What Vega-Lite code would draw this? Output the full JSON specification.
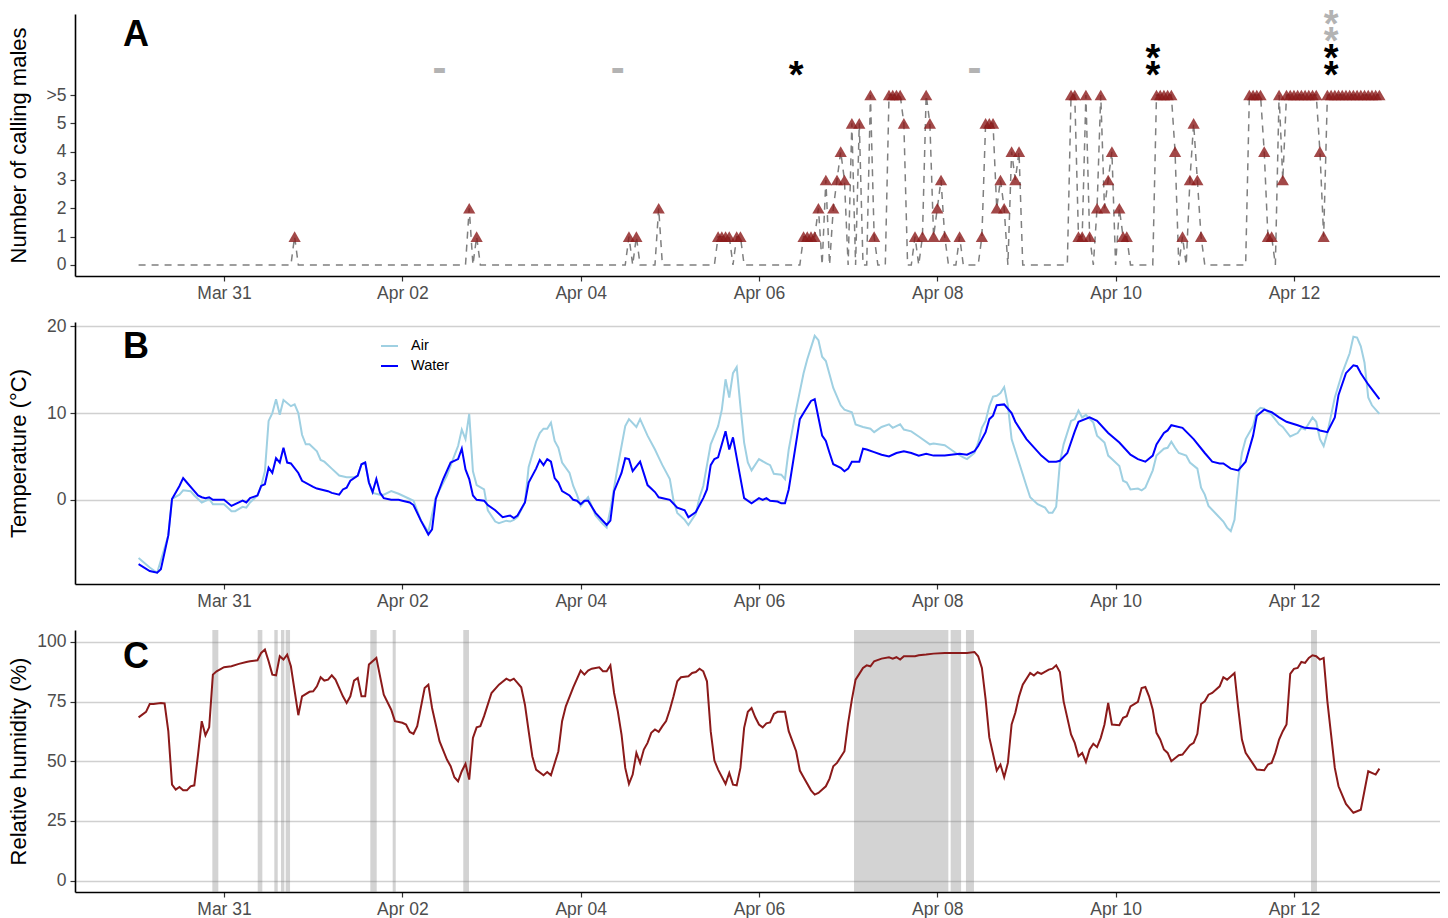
{
"$schema":"https://vega.github.io/schema/vega-lite/v6.json",
"padding":{"left":6,"top":7,"right":0,"bottom":0},
"bounds":"flush",
"spacing":46,
"resolve":{"scale":{"x":"independent","y":"independent","color":"independent"}},
"config":{
 "font":"Liberation Sans",
 "view":{"stroke":null},
 "axis":{"domainColor":"#000000","domainWidth":1.6,"tickColor":"#333333","tickWidth":1.2,"tickSize":5,"labelColor":"#4d4d4d","labelFontSize":17.5,"labelFont":"Liberation Sans","titleFont":"Liberation Sans","titleFontSize":22,"titleFontWeight":"normal","titleColor":"#000000","labelPadding":3,"grid":false,"gridColor":"#d0d0d0","gridWidth":1.5},
 "axisY":{"labelPadding":4},
 "text":{"font":"Liberation Sans"}
},
"datasets":{
"calls":[
{"t":"2019-03-30T01:00","n":0},{"t":"2019-03-31T18:00","n":0},{"t":"2019-03-31T19:00","n":1},{"t":"2019-03-31T20:00","n":0},
{"t":"2019-04-02T17:00","n":0},{"t":"2019-04-02T18:00","n":2},{"t":"2019-04-02T19:00","n":0},{"t":"2019-04-02T20:00","n":1},{"t":"2019-04-02T21:00","n":0},
{"t":"2019-04-04T12:00","n":0},{"t":"2019-04-04T13:00","n":1},{"t":"2019-04-04T14:00","n":0},{"t":"2019-04-04T15:00","n":1},{"t":"2019-04-04T16:00","n":0},{"t":"2019-04-04T20:00","n":0},{"t":"2019-04-04T21:00","n":2},{"t":"2019-04-04T22:00","n":0},
{"t":"2019-04-05T12:00","n":0},{"t":"2019-04-05T13:00","n":1},{"t":"2019-04-05T14:00","n":1},{"t":"2019-04-05T15:00","n":1},{"t":"2019-04-05T16:00","n":1},{"t":"2019-04-05T17:00","n":0},{"t":"2019-04-05T18:00","n":1},{"t":"2019-04-05T19:00","n":1},{"t":"2019-04-05T20:00","n":0},
{"t":"2019-04-06T11:00","n":0},{"t":"2019-04-06T12:00","n":1},{"t":"2019-04-06T13:00","n":1},{"t":"2019-04-06T14:00","n":1},{"t":"2019-04-06T15:00","n":1},{"t":"2019-04-06T16:00","n":2},{"t":"2019-04-06T17:00","n":0},{"t":"2019-04-06T18:00","n":3},{"t":"2019-04-06T19:00","n":0},{"t":"2019-04-06T20:00","n":2},{"t":"2019-04-06T21:00","n":3},{"t":"2019-04-06T22:00","n":4},{"t":"2019-04-06T23:00","n":3},
{"t":"2019-04-07T00:00","n":0},{"t":"2019-04-07T01:00","n":5},{"t":"2019-04-07T02:00","n":0},{"t":"2019-04-07T03:00","n":5},{"t":"2019-04-07T04:00","n":0},{"t":"2019-04-07T05:00","n":0},{"t":"2019-04-07T06:00","n":6},{"t":"2019-04-07T07:00","n":1},{"t":"2019-04-07T08:00","n":0},{"t":"2019-04-07T10:00","n":0},{"t":"2019-04-07T11:00","n":6},{"t":"2019-04-07T12:00","n":6},{"t":"2019-04-07T13:00","n":6},{"t":"2019-04-07T14:00","n":6},{"t":"2019-04-07T15:00","n":5},{"t":"2019-04-07T16:00","n":0},{"t":"2019-04-07T17:00","n":0},{"t":"2019-04-07T18:00","n":1},{"t":"2019-04-07T19:00","n":0},{"t":"2019-04-07T20:00","n":1},{"t":"2019-04-07T21:00","n":6},{"t":"2019-04-07T22:00","n":5},{"t":"2019-04-07T23:00","n":1},
{"t":"2019-04-08T00:00","n":2},{"t":"2019-04-08T01:00","n":3},{"t":"2019-04-08T02:00","n":1},{"t":"2019-04-08T03:00","n":0},{"t":"2019-04-08T05:00","n":0},{"t":"2019-04-08T06:00","n":1},{"t":"2019-04-08T07:00","n":0},{"t":"2019-04-08T11:00","n":0},{"t":"2019-04-08T12:00","n":1},{"t":"2019-04-08T13:00","n":5},{"t":"2019-04-08T14:00","n":5},{"t":"2019-04-08T15:00","n":5},{"t":"2019-04-08T16:00","n":2},{"t":"2019-04-08T17:00","n":3},{"t":"2019-04-08T18:00","n":2},{"t":"2019-04-08T19:00","n":0},{"t":"2019-04-08T20:00","n":4},{"t":"2019-04-08T21:00","n":3},{"t":"2019-04-08T22:00","n":4},{"t":"2019-04-08T23:00","n":0},
{"t":"2019-04-09T11:00","n":0},{"t":"2019-04-09T12:00","n":6},{"t":"2019-04-09T13:00","n":6},{"t":"2019-04-09T14:00","n":1},{"t":"2019-04-09T15:00","n":1},{"t":"2019-04-09T16:00","n":6},{"t":"2019-04-09T17:00","n":1},{"t":"2019-04-09T18:00","n":0},{"t":"2019-04-09T19:00","n":2},{"t":"2019-04-09T20:00","n":6},{"t":"2019-04-09T21:00","n":2},{"t":"2019-04-09T22:00","n":3},{"t":"2019-04-09T23:00","n":4},
{"t":"2019-04-10T00:00","n":0},{"t":"2019-04-10T01:00","n":2},{"t":"2019-04-10T02:00","n":1},{"t":"2019-04-10T03:00","n":1},{"t":"2019-04-10T04:00","n":0},{"t":"2019-04-10T10:00","n":0},{"t":"2019-04-10T11:00","n":6},{"t":"2019-04-10T12:00","n":6},{"t":"2019-04-10T13:00","n":6},{"t":"2019-04-10T14:00","n":6},{"t":"2019-04-10T15:00","n":6},{"t":"2019-04-10T16:00","n":4},{"t":"2019-04-10T17:00","n":0},{"t":"2019-04-10T18:00","n":1},{"t":"2019-04-10T19:00","n":0},{"t":"2019-04-10T20:00","n":3},{"t":"2019-04-10T21:00","n":5},{"t":"2019-04-10T22:00","n":3},{"t":"2019-04-10T23:00","n":1},
{"t":"2019-04-11T00:00","n":0},{"t":"2019-04-11T11:00","n":0},{"t":"2019-04-11T12:00","n":6},{"t":"2019-04-11T13:00","n":6},{"t":"2019-04-11T14:00","n":6},{"t":"2019-04-11T15:00","n":6},{"t":"2019-04-11T16:00","n":4},{"t":"2019-04-11T17:00","n":1},{"t":"2019-04-11T18:00","n":1},{"t":"2019-04-11T19:00","n":0},{"t":"2019-04-11T20:00","n":6},{"t":"2019-04-11T21:00","n":3},{"t":"2019-04-11T22:00","n":6},{"t":"2019-04-11T23:00","n":6},
{"t":"2019-04-12T00:00","n":6},{"t":"2019-04-12T01:00","n":6},{"t":"2019-04-12T02:00","n":6},{"t":"2019-04-12T03:00","n":6},{"t":"2019-04-12T04:00","n":6},{"t":"2019-04-12T05:00","n":6},{"t":"2019-04-12T06:00","n":6},{"t":"2019-04-12T07:00","n":4},{"t":"2019-04-12T08:00","n":1},{"t":"2019-04-12T09:00","n":6},{"t":"2019-04-12T10:00","n":6},{"t":"2019-04-12T11:00","n":6},{"t":"2019-04-12T12:00","n":6},{"t":"2019-04-12T13:00","n":6},{"t":"2019-04-12T14:00","n":6},{"t":"2019-04-12T15:00","n":6},{"t":"2019-04-12T16:00","n":6},{"t":"2019-04-12T17:00","n":6},{"t":"2019-04-12T18:00","n":6},{"t":"2019-04-12T19:00","n":6},{"t":"2019-04-12T20:00","n":6},{"t":"2019-04-12T21:00","n":6},{"t":"2019-04-12T22:00","n":6},{"t":"2019-04-12T23:00","n":6}
],
"sig":[
{"t":"2019-04-02T10:00","y":6.88,"txt":"-","cat":"secondary"},
{"t":"2019-04-04T10:00","y":6.88,"txt":"-","cat":"secondary"},
{"t":"2019-04-08T10:00","y":6.88,"txt":"-","cat":"secondary"},
{"t":"2019-04-06T10:00","y":6.95,"txt":"*","cat":"main"},
{"t":"2019-04-10T10:00","y":6.95,"txt":"*","cat":"main"},
{"t":"2019-04-10T10:00","y":7.55,"txt":"*","cat":"main"},
{"t":"2019-04-12T10:00","y":6.95,"txt":"*","cat":"main"},
{"t":"2019-04-12T10:00","y":7.55,"txt":"*","cat":"main"},
{"t":"2019-04-12T10:00","y":8.15,"txt":"*","cat":"secondary"},
{"t":"2019-04-12T10:00","y":8.75,"txt":"*","cat":"secondary"}
],
"temp":[
{"t":"2019-03-30T01:00","s":"Air","v":-6.7},{"t":"2019-03-30T04:00","s":"Air","v":-7.8},{"t":"2019-03-30T06:00","s":"Air","v":-8.4},{"t":"2019-03-30T09:00","s":"Air","v":-4.1},{"t":"2019-03-30T10:00","s":"Air","v":0.1},{"t":"2019-03-30T12:00","s":"Air","v":0.6},{"t":"2019-03-30T13:00","s":"Air","v":1.1},{"t":"2019-03-30T15:00","s":"Air","v":1.0},{"t":"2019-03-30T16:00","s":"Air","v":0.5},{"t":"2019-03-30T18:00","s":"Air","v":-0.3},{"t":"2019-03-30T20:00","s":"Air","v":0.1},{"t":"2019-03-30T21:00","s":"Air","v":-0.5},{"t":"2019-03-30T23:00","s":"Air","v":-0.5},
{"t":"2019-03-31T00:00","s":"Air","v":-0.5},{"t":"2019-03-31T02:00","s":"Air","v":-1.3},{"t":"2019-03-31T03:00","s":"Air","v":-1.3},{"t":"2019-03-31T05:00","s":"Air","v":-0.8},{"t":"2019-03-31T06:00","s":"Air","v":-0.9},{"t":"2019-03-31T07:00","s":"Air","v":-0.3},{"t":"2019-03-31T09:00","s":"Air","v":0.5},{"t":"2019-03-31T10:00","s":"Air","v":1.6},{"t":"2019-03-31T11:00","s":"Air","v":3.3},{"t":"2019-03-31T12:00","s":"Air","v":9.1},{"t":"2019-03-31T13:00","s":"Air","v":10.0},{"t":"2019-03-31T14:00","s":"Air","v":11.6},{"t":"2019-03-31T15:00","s":"Air","v":9.8},{"t":"2019-03-31T16:00","s":"Air","v":11.5},{"t":"2019-03-31T18:00","s":"Air","v":10.8},{"t":"2019-03-31T19:00","s":"Air","v":11.0},{"t":"2019-03-31T20:00","s":"Air","v":10.0},{"t":"2019-03-31T21:00","s":"Air","v":7.5},{"t":"2019-03-31T22:00","s":"Air","v":6.4},{"t":"2019-03-31T23:00","s":"Air","v":6.4},
{"t":"2019-04-01T01:00","s":"Air","v":5.6},{"t":"2019-04-01T02:00","s":"Air","v":4.6},{"t":"2019-04-01T03:00","s":"Air","v":4.4},{"t":"2019-04-01T05:00","s":"Air","v":3.6},{"t":"2019-04-01T07:00","s":"Air","v":2.8},{"t":"2019-04-01T09:00","s":"Air","v":2.6},{"t":"2019-04-01T11:00","s":"Air","v":2.6},{"t":"2019-04-01T12:00","s":"Air","v":2.8},{"t":"2019-04-01T13:00","s":"Air","v":4.1},{"t":"2019-04-01T14:00","s":"Air","v":4.3},{"t":"2019-04-01T15:00","s":"Air","v":2.0},{"t":"2019-04-01T16:00","s":"Air","v":0.8},{"t":"2019-04-01T18:00","s":"Air","v":0.6},{"t":"2019-04-01T19:00","s":"Air","v":0.6},{"t":"2019-04-01T21:00","s":"Air","v":1.0},{"t":"2019-04-01T23:00","s":"Air","v":0.7},
{"t":"2019-04-02T02:00","s":"Air","v":0.1},{"t":"2019-04-02T03:00","s":"Air","v":-0.1},{"t":"2019-04-02T05:00","s":"Air","v":-2.4},{"t":"2019-04-02T07:00","s":"Air","v":-3.7},{"t":"2019-04-02T09:00","s":"Air","v":0.3},{"t":"2019-04-02T12:00","s":"Air","v":2.8},{"t":"2019-04-02T14:00","s":"Air","v":5.1},{"t":"2019-04-02T15:00","s":"Air","v":6.2},{"t":"2019-04-02T16:00","s":"Air","v":8.1},{"t":"2019-04-02T17:00","s":"Air","v":7.0},{"t":"2019-04-02T18:00","s":"Air","v":9.9},{"t":"2019-04-02T19:00","s":"Air","v":3.3},{"t":"2019-04-02T20:00","s":"Air","v":1.7},{"t":"2019-04-02T22:00","s":"Air","v":1.2},{"t":"2019-04-02T23:00","s":"Air","v":-1.2},
{"t":"2019-04-03T01:00","s":"Air","v":-2.5},{"t":"2019-04-03T02:00","s":"Air","v":-2.7},{"t":"2019-04-03T04:00","s":"Air","v":-2.4},{"t":"2019-04-03T05:00","s":"Air","v":-2.5},{"t":"2019-04-03T06:00","s":"Air","v":-2.3},{"t":"2019-04-03T07:00","s":"Air","v":-2.0},{"t":"2019-04-03T09:00","s":"Air","v":-0.3},{"t":"2019-04-03T10:00","s":"Air","v":3.8},{"t":"2019-04-03T12:00","s":"Air","v":6.7},{"t":"2019-04-03T13:00","s":"Air","v":7.7},{"t":"2019-04-03T14:00","s":"Air","v":8.2},{"t":"2019-04-03T15:00","s":"Air","v":8.2},{"t":"2019-04-03T16:00","s":"Air","v":8.9},{"t":"2019-04-03T17:00","s":"Air","v":6.8},{"t":"2019-04-03T18:00","s":"Air","v":6.0},{"t":"2019-04-03T19:00","s":"Air","v":4.3},{"t":"2019-04-03T21:00","s":"Air","v":3.1},{"t":"2019-04-03T22:00","s":"Air","v":1.6},{"t":"2019-04-03T23:00","s":"Air","v":0.6},
{"t":"2019-04-04T00:00","s":"Air","v":-0.7},{"t":"2019-04-04T02:00","s":"Air","v":0.3},{"t":"2019-04-04T04:00","s":"Air","v":-1.8},{"t":"2019-04-04T06:00","s":"Air","v":-2.8},{"t":"2019-04-04T07:00","s":"Air","v":-3.2},{"t":"2019-04-04T08:00","s":"Air","v":-1.1},{"t":"2019-04-04T10:00","s":"Air","v":3.9},{"t":"2019-04-04T12:00","s":"Air","v":8.5},{"t":"2019-04-04T13:00","s":"Air","v":9.3},{"t":"2019-04-04T15:00","s":"Air","v":8.4},{"t":"2019-04-04T16:00","s":"Air","v":9.3},{"t":"2019-04-04T18:00","s":"Air","v":7.4},{"t":"2019-04-04T20:00","s":"Air","v":5.8},{"t":"2019-04-04T21:00","s":"Air","v":4.9},{"t":"2019-04-04T22:00","s":"Air","v":4.0},
{"t":"2019-04-05T00:00","s":"Air","v":2.4},{"t":"2019-04-05T01:00","s":"Air","v":-0.1},{"t":"2019-04-05T02:00","s":"Air","v":-1.5},{"t":"2019-04-05T04:00","s":"Air","v":-2.3},{"t":"2019-04-05T05:00","s":"Air","v":-2.9},{"t":"2019-04-05T07:00","s":"Air","v":-1.6},{"t":"2019-04-05T08:00","s":"Air","v":0.3},{"t":"2019-04-05T09:00","s":"Air","v":1.6},{"t":"2019-04-05T11:00","s":"Air","v":6.4},{"t":"2019-04-05T13:00","s":"Air","v":8.5},{"t":"2019-04-05T14:00","s":"Air","v":10.4},{"t":"2019-04-05T15:00","s":"Air","v":13.9},{"t":"2019-04-05T16:00","s":"Air","v":11.8},{"t":"2019-04-05T17:00","s":"Air","v":14.6},{"t":"2019-04-05T18:00","s":"Air","v":15.3},{"t":"2019-04-05T19:00","s":"Air","v":10.8},{"t":"2019-04-05T20:00","s":"Air","v":6.6},{"t":"2019-04-05T21:00","s":"Air","v":4.3},{"t":"2019-04-05T22:00","s":"Air","v":3.4},
{"t":"2019-04-06T00:00","s":"Air","v":4.7},{"t":"2019-04-06T02:00","s":"Air","v":4.2},{"t":"2019-04-06T03:00","s":"Air","v":4.0},{"t":"2019-04-06T04:00","s":"Air","v":3.0},{"t":"2019-04-06T06:00","s":"Air","v":2.9},{"t":"2019-04-06T07:00","s":"Air","v":2.4},{"t":"2019-04-06T08:00","s":"Air","v":5.8},{"t":"2019-04-06T10:00","s":"Air","v":10.4},{"t":"2019-04-06T12:00","s":"Air","v":14.6},{"t":"2019-04-06T13:00","s":"Air","v":16.2},{"t":"2019-04-06T15:00","s":"Air","v":18.9},{"t":"2019-04-06T16:00","s":"Air","v":18.4},{"t":"2019-04-06T17:00","s":"Air","v":16.5},{"t":"2019-04-06T18:00","s":"Air","v":16.0},{"t":"2019-04-06T20:00","s":"Air","v":12.9},{"t":"2019-04-06T22:00","s":"Air","v":10.9},{"t":"2019-04-06T23:00","s":"Air","v":10.4},
{"t":"2019-04-07T01:00","s":"Air","v":10.1},{"t":"2019-04-07T02:00","s":"Air","v":8.7},{"t":"2019-04-07T04:00","s":"Air","v":8.4},{"t":"2019-04-07T06:00","s":"Air","v":8.2},{"t":"2019-04-07T07:00","s":"Air","v":7.8},{"t":"2019-04-07T09:00","s":"Air","v":8.4},{"t":"2019-04-07T11:00","s":"Air","v":8.7},{"t":"2019-04-07T12:00","s":"Air","v":8.3},{"t":"2019-04-07T14:00","s":"Air","v":8.7},{"t":"2019-04-07T15:00","s":"Air","v":8.1},{"t":"2019-04-07T17:00","s":"Air","v":7.9},{"t":"2019-04-07T19:00","s":"Air","v":7.3},{"t":"2019-04-07T22:00","s":"Air","v":6.4},{"t":"2019-04-07T23:00","s":"Air","v":6.5},
{"t":"2019-04-08T02:00","s":"Air","v":6.3},{"t":"2019-04-08T03:00","s":"Air","v":6.0},{"t":"2019-04-08T05:00","s":"Air","v":5.4},{"t":"2019-04-08T07:00","s":"Air","v":4.9},{"t":"2019-04-08T08:00","s":"Air","v":4.7},{"t":"2019-04-08T10:00","s":"Air","v":5.4},{"t":"2019-04-08T11:00","s":"Air","v":6.6},{"t":"2019-04-08T12:00","s":"Air","v":8.3},{"t":"2019-04-08T13:00","s":"Air","v":9.1},{"t":"2019-04-08T14:00","s":"Air","v":10.8},{"t":"2019-04-08T15:00","s":"Air","v":11.9},{"t":"2019-04-08T16:00","s":"Air","v":12.0},{"t":"2019-04-08T17:00","s":"Air","v":12.3},{"t":"2019-04-08T18:00","s":"Air","v":13.0},{"t":"2019-04-08T19:00","s":"Air","v":10.9},{"t":"2019-04-08T20:00","s":"Air","v":7.0},{"t":"2019-04-08T22:00","s":"Air","v":4.3},
{"t":"2019-04-09T00:00","s":"Air","v":1.6},{"t":"2019-04-09T01:00","s":"Air","v":0.3},{"t":"2019-04-09T03:00","s":"Air","v":-0.5},{"t":"2019-04-09T05:00","s":"Air","v":-0.9},{"t":"2019-04-09T06:00","s":"Air","v":-1.5},{"t":"2019-04-09T07:00","s":"Air","v":-1.5},{"t":"2019-04-09T08:00","s":"Air","v":-0.8},{"t":"2019-04-09T09:00","s":"Air","v":4.3},{"t":"2019-04-09T10:00","s":"Air","v":6.4},{"t":"2019-04-09T12:00","s":"Air","v":9.1},{"t":"2019-04-09T13:00","s":"Air","v":9.3},{"t":"2019-04-09T14:00","s":"Air","v":10.3},{"t":"2019-04-09T15:00","s":"Air","v":9.5},{"t":"2019-04-09T16:00","s":"Air","v":9.8},{"t":"2019-04-09T18:00","s":"Air","v":8.9},{"t":"2019-04-09T19:00","s":"Air","v":7.4},{"t":"2019-04-09T21:00","s":"Air","v":6.6},{"t":"2019-04-09T22:00","s":"Air","v":5.1},{"t":"2019-04-09T23:00","s":"Air","v":4.7},
{"t":"2019-04-10T01:00","s":"Air","v":3.9},{"t":"2019-04-10T02:00","s":"Air","v":2.2},{"t":"2019-04-10T03:00","s":"Air","v":2.0},{"t":"2019-04-10T04:00","s":"Air","v":1.2},{"t":"2019-04-10T06:00","s":"Air","v":1.3},{"t":"2019-04-10T07:00","s":"Air","v":1.1},{"t":"2019-04-10T08:00","s":"Air","v":1.4},{"t":"2019-04-10T10:00","s":"Air","v":3.4},{"t":"2019-04-10T11:00","s":"Air","v":5.1},{"t":"2019-04-10T13:00","s":"Air","v":5.9},{"t":"2019-04-10T14:00","s":"Air","v":6.0},{"t":"2019-04-10T15:00","s":"Air","v":6.7},{"t":"2019-04-10T16:00","s":"Air","v":6.0},{"t":"2019-04-10T17:00","s":"Air","v":5.4},{"t":"2019-04-10T19:00","s":"Air","v":5.1},{"t":"2019-04-10T20:00","s":"Air","v":4.3},{"t":"2019-04-10T22:00","s":"Air","v":3.6},{"t":"2019-04-10T23:00","s":"Air","v":1.4},
{"t":"2019-04-11T00:00","s":"Air","v":0.6},{"t":"2019-04-11T01:00","s":"Air","v":-0.7},{"t":"2019-04-11T03:00","s":"Air","v":-1.6},{"t":"2019-04-11T05:00","s":"Air","v":-2.5},{"t":"2019-04-11T06:00","s":"Air","v":-3.2},{"t":"2019-04-11T07:00","s":"Air","v":-3.6},{"t":"2019-04-11T08:00","s":"Air","v":-2.3},{"t":"2019-04-11T09:00","s":"Air","v":2.4},{"t":"2019-04-11T10:00","s":"Air","v":5.4},{"t":"2019-04-11T11:00","s":"Air","v":7.0},{"t":"2019-04-11T13:00","s":"Air","v":8.5},{"t":"2019-04-11T14:00","s":"Air","v":10.2},{"t":"2019-04-11T15:00","s":"Air","v":10.6},{"t":"2019-04-11T16:00","s":"Air","v":10.5},{"t":"2019-04-11T18:00","s":"Air","v":9.8},{"t":"2019-04-11T20:00","s":"Air","v":8.7},{"t":"2019-04-11T21:00","s":"Air","v":8.4},{"t":"2019-04-11T23:00","s":"Air","v":7.3},
{"t":"2019-04-12T01:00","s":"Air","v":7.7},{"t":"2019-04-12T02:00","s":"Air","v":8.3},{"t":"2019-04-12T03:00","s":"Air","v":8.1},{"t":"2019-04-12T05:00","s":"Air","v":9.5},{"t":"2019-04-12T06:00","s":"Air","v":9.0},{"t":"2019-04-12T07:00","s":"Air","v":7.0},{"t":"2019-04-12T08:00","s":"Air","v":6.2},{"t":"2019-04-12T09:00","s":"Air","v":7.7},{"t":"2019-04-12T11:00","s":"Air","v":11.8},{"t":"2019-04-12T13:00","s":"Air","v":14.6},{"t":"2019-04-12T15:00","s":"Air","v":16.9},{"t":"2019-04-12T16:00","s":"Air","v":18.8},{"t":"2019-04-12T17:00","s":"Air","v":18.7},{"t":"2019-04-12T18:00","s":"Air","v":17.7},{"t":"2019-04-12T19:00","s":"Air","v":15.8},{"t":"2019-04-12T20:00","s":"Air","v":11.8},{"t":"2019-04-12T21:00","s":"Air","v":10.9},{"t":"2019-04-12T23:00","s":"Air","v":9.9},
{"t":"2019-03-30T01:00","s":"Water","v":-7.4},{"t":"2019-03-30T04:00","s":"Water","v":-8.2},{"t":"2019-03-30T06:00","s":"Water","v":-8.4},{"t":"2019-03-30T07:00","s":"Water","v":-8.0},{"t":"2019-03-30T09:00","s":"Water","v":-4.1},{"t":"2019-03-30T10:00","s":"Water","v":0.1},{"t":"2019-03-30T12:00","s":"Water","v":1.6},{"t":"2019-03-30T13:00","s":"Water","v":2.5},{"t":"2019-03-30T14:00","s":"Water","v":2.0},{"t":"2019-03-30T16:00","s":"Water","v":1.0},{"t":"2019-03-30T17:00","s":"Water","v":0.5},{"t":"2019-03-30T18:00","s":"Water","v":0.3},{"t":"2019-03-30T19:00","s":"Water","v":0.2},{"t":"2019-03-30T20:00","s":"Water","v":0.3},{"t":"2019-03-30T21:00","s":"Water","v":0.0},
{"t":"2019-03-31T00:00","s":"Water","v":0.0},{"t":"2019-03-31T02:00","s":"Water","v":-0.7},{"t":"2019-03-31T05:00","s":"Water","v":-0.1},{"t":"2019-03-31T06:00","s":"Water","v":-0.3},{"t":"2019-03-31T07:00","s":"Water","v":0.2},{"t":"2019-03-31T09:00","s":"Water","v":0.5},{"t":"2019-03-31T10:00","s":"Water","v":1.6},{"t":"2019-03-31T11:00","s":"Water","v":1.8},{"t":"2019-03-31T12:00","s":"Water","v":3.7},{"t":"2019-03-31T13:00","s":"Water","v":3.1},{"t":"2019-03-31T14:00","s":"Water","v":4.8},{"t":"2019-03-31T15:00","s":"Water","v":4.3},{"t":"2019-03-31T16:00","s":"Water","v":6.0},{"t":"2019-03-31T17:00","s":"Water","v":4.3},{"t":"2019-03-31T18:00","s":"Water","v":4.2},{"t":"2019-03-31T20:00","s":"Water","v":3.1},{"t":"2019-03-31T21:00","s":"Water","v":2.2},
{"t":"2019-04-01T00:00","s":"Water","v":1.5},{"t":"2019-04-01T01:00","s":"Water","v":1.3},{"t":"2019-04-01T04:00","s":"Water","v":1.0},{"t":"2019-04-01T05:00","s":"Water","v":0.8},{"t":"2019-04-01T07:00","s":"Water","v":0.6},{"t":"2019-04-01T08:00","s":"Water","v":1.2},{"t":"2019-04-01T09:00","s":"Water","v":1.4},{"t":"2019-04-01T10:00","s":"Water","v":2.2},{"t":"2019-04-01T12:00","s":"Water","v":2.8},{"t":"2019-04-01T13:00","s":"Water","v":4.1},{"t":"2019-04-01T14:00","s":"Water","v":4.3},{"t":"2019-04-01T15:00","s":"Water","v":2.0},{"t":"2019-04-01T16:00","s":"Water","v":0.9},{"t":"2019-04-01T17:00","s":"Water","v":2.4},{"t":"2019-04-01T18:00","s":"Water","v":0.8},{"t":"2019-04-01T19:00","s":"Water","v":0.2},{"t":"2019-04-01T21:00","s":"Water","v":0.0},{"t":"2019-04-01T23:00","s":"Water","v":0.0},
{"t":"2019-04-02T00:00","s":"Water","v":-0.1},{"t":"2019-04-02T02:00","s":"Water","v":-0.3},{"t":"2019-04-02T03:00","s":"Water","v":-0.6},{"t":"2019-04-02T05:00","s":"Water","v":-2.4},{"t":"2019-04-02T07:00","s":"Water","v":-4.0},{"t":"2019-04-02T08:00","s":"Water","v":-3.4},{"t":"2019-04-02T09:00","s":"Water","v":0.1},{"t":"2019-04-02T11:00","s":"Water","v":2.4},{"t":"2019-04-02T13:00","s":"Water","v":4.3},{"t":"2019-04-02T15:00","s":"Water","v":4.7},{"t":"2019-04-02T16:00","s":"Water","v":5.9},{"t":"2019-04-02T17:00","s":"Water","v":3.5},{"t":"2019-04-02T18:00","s":"Water","v":2.4},{"t":"2019-04-02T19:00","s":"Water","v":0.5},{"t":"2019-04-02T20:00","s":"Water","v":0.0},{"t":"2019-04-02T22:00","s":"Water","v":-0.1},{"t":"2019-04-02T23:00","s":"Water","v":-0.6},
{"t":"2019-04-03T01:00","s":"Water","v":-1.2},{"t":"2019-04-03T03:00","s":"Water","v":-2.0},{"t":"2019-04-03T05:00","s":"Water","v":-1.8},{"t":"2019-04-03T06:00","s":"Water","v":-2.1},{"t":"2019-04-03T07:00","s":"Water","v":-1.8},{"t":"2019-04-03T09:00","s":"Water","v":-0.3},{"t":"2019-04-03T10:00","s":"Water","v":2.0},{"t":"2019-04-03T12:00","s":"Water","v":3.6},{"t":"2019-04-03T13:00","s":"Water","v":4.6},{"t":"2019-04-03T14:00","s":"Water","v":4.0},{"t":"2019-04-03T15:00","s":"Water","v":4.7},{"t":"2019-04-03T16:00","s":"Water","v":4.4},{"t":"2019-04-03T17:00","s":"Water","v":2.5},{"t":"2019-04-03T18:00","s":"Water","v":2.0},{"t":"2019-04-03T19:00","s":"Water","v":1.0},{"t":"2019-04-03T21:00","s":"Water","v":0.5},{"t":"2019-04-03T22:00","s":"Water","v":0.0},{"t":"2019-04-03T23:00","s":"Water","v":-0.1},
{"t":"2019-04-04T00:00","s":"Water","v":-0.5},{"t":"2019-04-04T01:00","s":"Water","v":-0.1},{"t":"2019-04-04T02:00","s":"Water","v":-0.1},{"t":"2019-04-04T04:00","s":"Water","v":-1.5},{"t":"2019-04-04T07:00","s":"Water","v":-2.9},{"t":"2019-04-04T08:00","s":"Water","v":-2.4},{"t":"2019-04-04T09:00","s":"Water","v":1.0},{"t":"2019-04-04T11:00","s":"Water","v":3.1},{"t":"2019-04-04T12:00","s":"Water","v":4.8},{"t":"2019-04-04T13:00","s":"Water","v":4.7},{"t":"2019-04-04T14:00","s":"Water","v":3.3},{"t":"2019-04-04T16:00","s":"Water","v":4.4},{"t":"2019-04-04T18:00","s":"Water","v":1.7},{"t":"2019-04-04T20:00","s":"Water","v":0.9},{"t":"2019-04-04T21:00","s":"Water","v":0.3},
{"t":"2019-04-05T00:00","s":"Water","v":0.0},{"t":"2019-04-05T02:00","s":"Water","v":-0.9},{"t":"2019-04-05T04:00","s":"Water","v":-1.2},{"t":"2019-04-05T05:00","s":"Water","v":-2.0},{"t":"2019-04-05T07:00","s":"Water","v":-1.4},{"t":"2019-04-05T09:00","s":"Water","v":0.2},{"t":"2019-04-05T10:00","s":"Water","v":1.2},{"t":"2019-04-05T11:00","s":"Water","v":4.0},{"t":"2019-04-05T12:00","s":"Water","v":4.7},{"t":"2019-04-05T13:00","s":"Water","v":4.9},{"t":"2019-04-05T15:00","s":"Water","v":7.9},{"t":"2019-04-05T16:00","s":"Water","v":5.8},{"t":"2019-04-05T17:00","s":"Water","v":7.2},{"t":"2019-04-05T20:00","s":"Water","v":0.2},{"t":"2019-04-05T22:00","s":"Water","v":-0.4},
{"t":"2019-04-06T00:00","s":"Water","v":0.2},{"t":"2019-04-06T01:00","s":"Water","v":0.0},{"t":"2019-04-06T02:00","s":"Water","v":0.2},{"t":"2019-04-06T03:00","s":"Water","v":-0.1},{"t":"2019-04-06T05:00","s":"Water","v":-0.2},{"t":"2019-04-06T06:00","s":"Water","v":-0.4},{"t":"2019-04-06T07:00","s":"Water","v":-0.4},{"t":"2019-04-06T08:00","s":"Water","v":1.2},{"t":"2019-04-06T10:00","s":"Water","v":6.6},{"t":"2019-04-06T11:00","s":"Water","v":9.3},{"t":"2019-04-06T12:00","s":"Water","v":10.0},{"t":"2019-04-06T14:00","s":"Water","v":11.4},{"t":"2019-04-06T15:00","s":"Water","v":11.6},{"t":"2019-04-06T16:00","s":"Water","v":9.5},{"t":"2019-04-06T17:00","s":"Water","v":7.4},{"t":"2019-04-06T18:00","s":"Water","v":6.8},{"t":"2019-04-06T19:00","s":"Water","v":5.4},{"t":"2019-04-06T20:00","s":"Water","v":4.1},{"t":"2019-04-06T22:00","s":"Water","v":3.7},{"t":"2019-04-06T23:00","s":"Water","v":3.3},
{"t":"2019-04-07T00:00","s":"Water","v":3.6},{"t":"2019-04-07T01:00","s":"Water","v":4.4},{"t":"2019-04-07T03:00","s":"Water","v":4.4},{"t":"2019-04-07T04:00","s":"Water","v":5.9},{"t":"2019-04-07T05:00","s":"Water","v":5.8},{"t":"2019-04-07T07:00","s":"Water","v":5.5},{"t":"2019-04-07T09:00","s":"Water","v":5.2},{"t":"2019-04-07T11:00","s":"Water","v":5.0},{"t":"2019-04-07T13:00","s":"Water","v":5.4},{"t":"2019-04-07T15:00","s":"Water","v":5.6},{"t":"2019-04-07T17:00","s":"Water","v":5.4},{"t":"2019-04-07T19:00","s":"Water","v":5.1},{"t":"2019-04-07T21:00","s":"Water","v":5.3},{"t":"2019-04-07T23:00","s":"Water","v":5.1},
{"t":"2019-04-08T02:00","s":"Water","v":5.1},{"t":"2019-04-08T06:00","s":"Water","v":5.3},{"t":"2019-04-08T08:00","s":"Water","v":5.2},{"t":"2019-04-08T10:00","s":"Water","v":5.6},{"t":"2019-04-08T11:00","s":"Water","v":6.2},{"t":"2019-04-08T12:00","s":"Water","v":7.0},{"t":"2019-04-08T13:00","s":"Water","v":7.8},{"t":"2019-04-08T14:00","s":"Water","v":9.3},{"t":"2019-04-08T15:00","s":"Water","v":9.7},{"t":"2019-04-08T16:00","s":"Water","v":10.9},{"t":"2019-04-08T18:00","s":"Water","v":11.0},{"t":"2019-04-08T20:00","s":"Water","v":10.0},{"t":"2019-04-08T21:00","s":"Water","v":9.0},
{"t":"2019-04-09T00:00","s":"Water","v":7.0},{"t":"2019-04-09T04:00","s":"Water","v":5.1},{"t":"2019-04-09T06:00","s":"Water","v":4.4},{"t":"2019-04-09T08:00","s":"Water","v":4.4},{"t":"2019-04-09T09:00","s":"Water","v":4.5},{"t":"2019-04-09T11:00","s":"Water","v":5.4},{"t":"2019-04-09T13:00","s":"Water","v":7.9},{"t":"2019-04-09T14:00","s":"Water","v":9.0},{"t":"2019-04-09T17:00","s":"Water","v":9.5},{"t":"2019-04-09T19:00","s":"Water","v":9.1},{"t":"2019-04-09T22:00","s":"Water","v":7.7},
{"t":"2019-04-10T01:00","s":"Water","v":6.6},{"t":"2019-04-10T04:00","s":"Water","v":5.2},{"t":"2019-04-10T06:00","s":"Water","v":4.7},{"t":"2019-04-10T08:00","s":"Water","v":4.4},{"t":"2019-04-10T10:00","s":"Water","v":5.1},{"t":"2019-04-10T11:00","s":"Water","v":6.4},{"t":"2019-04-10T13:00","s":"Water","v":7.7},{"t":"2019-04-10T14:00","s":"Water","v":8.0},{"t":"2019-04-10T15:00","s":"Water","v":8.6},{"t":"2019-04-10T18:00","s":"Water","v":8.3},{"t":"2019-04-10T21:00","s":"Water","v":7.0},
{"t":"2019-04-11T00:00","s":"Water","v":5.4},{"t":"2019-04-11T02:00","s":"Water","v":4.4},{"t":"2019-04-11T04:00","s":"Water","v":4.2},{"t":"2019-04-11T05:00","s":"Water","v":4.2},{"t":"2019-04-11T07:00","s":"Water","v":3.6},{"t":"2019-04-11T09:00","s":"Water","v":3.4},{"t":"2019-04-11T11:00","s":"Water","v":4.4},{"t":"2019-04-11T13:00","s":"Water","v":7.4},{"t":"2019-04-11T14:00","s":"Water","v":9.7},{"t":"2019-04-11T16:00","s":"Water","v":10.4},{"t":"2019-04-11T18:00","s":"Water","v":10.1},{"t":"2019-04-11T20:00","s":"Water","v":9.5},{"t":"2019-04-11T22:00","s":"Water","v":9.0},
{"t":"2019-04-12T01:00","s":"Water","v":8.6},{"t":"2019-04-12T03:00","s":"Water","v":8.3},{"t":"2019-04-12T06:00","s":"Water","v":8.2},{"t":"2019-04-12T07:00","s":"Water","v":8.0},{"t":"2019-04-12T09:00","s":"Water","v":7.8},{"t":"2019-04-12T11:00","s":"Water","v":9.5},{"t":"2019-04-12T12:00","s":"Water","v":12.1},{"t":"2019-04-12T14:00","s":"Water","v":14.6},{"t":"2019-04-12T16:00","s":"Water","v":15.5},{"t":"2019-04-12T17:00","s":"Water","v":15.4},{"t":"2019-04-12T18:00","s":"Water","v":14.6},{"t":"2019-04-12T20:00","s":"Water","v":13.3},{"t":"2019-04-12T23:00","s":"Water","v":11.6}
],
"rh":[
{"t":"2019-03-30T01:00","v":68.4},{"t":"2019-03-30T03:00","v":70.7},{"t":"2019-03-30T04:00","v":74.0},{"t":"2019-03-30T05:00","v":74.0},{"t":"2019-03-30T07:00","v":74.4},{"t":"2019-03-30T08:00","v":74.2},{"t":"2019-03-30T09:00","v":62.6},{"t":"2019-03-30T10:00","v":40.2},{"t":"2019-03-30T11:00","v":38.1},{"t":"2019-03-30T12:00","v":39.2},{"t":"2019-03-30T13:00","v":37.8},{"t":"2019-03-30T14:00","v":37.8},{"t":"2019-03-30T15:00","v":39.5},{"t":"2019-03-30T16:00","v":39.9},{"t":"2019-03-30T17:00","v":52.8},{"t":"2019-03-30T18:00","v":66.8},{"t":"2019-03-30T19:00","v":60.9},{"t":"2019-03-30T20:00","v":64.2},{"t":"2019-03-30T21:00","v":86.3},{"t":"2019-03-30T22:00","v":87.7},
{"t":"2019-03-31T00:00","v":89.4},{"t":"2019-03-31T02:00","v":89.8},{"t":"2019-03-31T04:00","v":90.8},{"t":"2019-03-31T06:00","v":91.6},{"t":"2019-03-31T07:00","v":91.9},{"t":"2019-03-31T09:00","v":92.3},{"t":"2019-03-31T10:00","v":95.4},{"t":"2019-03-31T11:00","v":96.8},{"t":"2019-03-31T12:00","v":91.9},{"t":"2019-03-31T13:00","v":86.3},{"t":"2019-03-31T14:00","v":86.0},{"t":"2019-03-31T15:00","v":94.0},{"t":"2019-03-31T16:00","v":92.6},{"t":"2019-03-31T17:00","v":94.7},{"t":"2019-03-31T18:00","v":89.8},{"t":"2019-03-31T20:00","v":69.3},{"t":"2019-03-31T21:00","v":77.2},{"t":"2019-03-31T23:00","v":79.1},
{"t":"2019-04-01T00:00","v":79.3},{"t":"2019-04-01T01:00","v":81.4},{"t":"2019-04-01T02:00","v":85.2},{"t":"2019-04-01T03:00","v":83.8},{"t":"2019-04-01T04:00","v":84.2},{"t":"2019-04-01T05:00","v":86.0},{"t":"2019-04-01T06:00","v":84.2},{"t":"2019-04-01T08:00","v":77.2},{"t":"2019-04-01T09:00","v":74.4},{"t":"2019-04-01T10:00","v":77.2},{"t":"2019-04-01T11:00","v":83.8},{"t":"2019-04-01T12:00","v":84.9},{"t":"2019-04-01T13:00","v":77.2},{"t":"2019-04-01T14:00","v":77.2},{"t":"2019-04-01T15:00","v":90.5},{"t":"2019-04-01T17:00","v":93.3},{"t":"2019-04-01T19:00","v":77.9},{"t":"2019-04-01T21:00","v":71.6},{"t":"2019-04-01T22:00","v":66.8},
{"t":"2019-04-02T00:00","v":66.1},{"t":"2019-04-02T01:00","v":65.4},{"t":"2019-04-02T02:00","v":62.3},{"t":"2019-04-02T03:00","v":61.5},{"t":"2019-04-02T04:00","v":64.7},{"t":"2019-04-02T06:00","v":80.7},{"t":"2019-04-02T07:00","v":82.1},{"t":"2019-04-02T08:00","v":72.3},{"t":"2019-04-02T10:00","v":58.4},{"t":"2019-04-02T12:00","v":50.7},{"t":"2019-04-02T13:00","v":47.9},{"t":"2019-04-02T14:00","v":43.3},{"t":"2019-04-02T15:00","v":41.6},{"t":"2019-04-02T16:00","v":45.8},{"t":"2019-04-02T17:00","v":48.9},{"t":"2019-04-02T18:00","v":42.3},{"t":"2019-04-02T19:00","v":59.8},{"t":"2019-04-02T20:00","v":64.2},{"t":"2019-04-02T21:00","v":64.7},{"t":"2019-04-02T22:00","v":68.9},
{"t":"2019-04-03T00:00","v":78.6},{"t":"2019-04-03T02:00","v":82.1},{"t":"2019-04-03T04:00","v":84.6},{"t":"2019-04-03T05:00","v":83.8},{"t":"2019-04-03T06:00","v":84.6},{"t":"2019-04-03T08:00","v":81.0},{"t":"2019-04-03T09:00","v":73.7},{"t":"2019-04-03T10:00","v":62.6},{"t":"2019-04-03T11:00","v":52.0},{"t":"2019-04-03T12:00","v":46.5},{"t":"2019-04-03T14:00","v":44.1},{"t":"2019-04-03T15:00","v":45.5},{"t":"2019-04-03T16:00","v":44.1},{"t":"2019-04-03T18:00","v":54.2},{"t":"2019-04-03T19:00","v":66.8},{"t":"2019-04-03T20:00","v":73.0},{"t":"2019-04-03T22:00","v":81.0},
{"t":"2019-04-04T00:00","v":88.0},{"t":"2019-04-04T01:00","v":86.3},{"t":"2019-04-04T02:00","v":88.0},{"t":"2019-04-04T03:00","v":88.8},{"t":"2019-04-04T05:00","v":89.4},{"t":"2019-04-04T06:00","v":87.7},{"t":"2019-04-04T07:00","v":87.7},{"t":"2019-04-04T08:00","v":90.2},{"t":"2019-04-04T09:00","v":78.6},{"t":"2019-04-04T10:00","v":70.9},{"t":"2019-04-04T11:00","v":61.2},{"t":"2019-04-04T12:00","v":47.2},{"t":"2019-04-04T13:00","v":40.5},{"t":"2019-04-04T14:00","v":44.4},{"t":"2019-04-04T15:00","v":53.5},{"t":"2019-04-04T16:00","v":49.3},{"t":"2019-04-04T17:00","v":54.9},{"t":"2019-04-04T18:00","v":57.7},{"t":"2019-04-04T19:00","v":61.9},{"t":"2019-04-04T20:00","v":63.3},{"t":"2019-04-04T21:00","v":62.3},{"t":"2019-04-04T22:00","v":64.7},{"t":"2019-04-04T23:00","v":66.8},
{"t":"2019-04-05T00:00","v":71.6},{"t":"2019-04-05T01:00","v":77.2},{"t":"2019-04-05T02:00","v":83.5},{"t":"2019-04-05T03:00","v":85.2},{"t":"2019-04-05T05:00","v":85.6},{"t":"2019-04-05T06:00","v":87.0},{"t":"2019-04-05T07:00","v":87.4},{"t":"2019-04-05T08:00","v":88.8},{"t":"2019-04-05T09:00","v":87.7},{"t":"2019-04-05T10:00","v":83.5},{"t":"2019-04-05T11:00","v":62.6},{"t":"2019-04-05T12:00","v":50.3},{"t":"2019-04-05T13:00","v":46.5},{"t":"2019-04-05T15:00","v":40.5},{"t":"2019-04-05T16:00","v":45.1},{"t":"2019-04-05T17:00","v":40.2},{"t":"2019-04-05T18:00","v":39.9},{"t":"2019-04-05T19:00","v":47.2},{"t":"2019-04-05T20:00","v":64.0},{"t":"2019-04-05T21:00","v":70.7},{"t":"2019-04-05T22:00","v":72.3},{"t":"2019-04-05T23:00","v":68.4},
{"t":"2019-04-06T00:00","v":65.4},{"t":"2019-04-06T01:00","v":64.2},{"t":"2019-04-06T02:00","v":65.9},{"t":"2019-04-06T03:00","v":66.3},{"t":"2019-04-06T04:00","v":69.8},{"t":"2019-04-06T05:00","v":70.7},{"t":"2019-04-06T07:00","v":70.7},{"t":"2019-04-06T08:00","v":62.6},{"t":"2019-04-06T10:00","v":54.2},{"t":"2019-04-06T11:00","v":46.1},{"t":"2019-04-06T12:00","v":43.3},{"t":"2019-04-06T14:00","v":37.8},{"t":"2019-04-06T15:00","v":36.0},{"t":"2019-04-06T16:00","v":36.7},{"t":"2019-04-06T18:00","v":39.5},{"t":"2019-04-06T19:00","v":42.7},{"t":"2019-04-06T20:00","v":47.9},{"t":"2019-04-06T21:00","v":49.3},{"t":"2019-04-06T23:00","v":54.2},
{"t":"2019-04-07T00:00","v":66.1},{"t":"2019-04-07T01:00","v":75.8},{"t":"2019-04-07T02:00","v":84.2},{"t":"2019-04-07T03:00","v":86.6},{"t":"2019-04-07T04:00","v":89.1},{"t":"2019-04-07T05:00","v":90.2},{"t":"2019-04-07T06:00","v":89.8},{"t":"2019-04-07T07:00","v":91.9},{"t":"2019-04-07T09:00","v":93.0},{"t":"2019-04-07T11:00","v":93.6},{"t":"2019-04-07T12:00","v":93.0},{"t":"2019-04-07T13:00","v":93.6},{"t":"2019-04-07T14:00","v":92.6},{"t":"2019-04-07T15:00","v":94.0},{"t":"2019-04-07T18:00","v":94.0},{"t":"2019-04-07T19:00","v":94.4},{"t":"2019-04-07T21:00","v":94.7},{"t":"2019-04-07T23:00","v":95.1},
{"t":"2019-04-08T02:00","v":95.4},{"t":"2019-04-08T05:00","v":95.4},{"t":"2019-04-08T08:00","v":95.4},{"t":"2019-04-08T10:00","v":95.8},{"t":"2019-04-08T11:00","v":94.0},{"t":"2019-04-08T12:00","v":89.1},{"t":"2019-04-08T13:00","v":76.0},{"t":"2019-04-08T14:00","v":60.0},{"t":"2019-04-08T16:00","v":46.1},{"t":"2019-04-08T17:00","v":48.6},{"t":"2019-04-08T18:00","v":43.3},{"t":"2019-04-08T19:00","v":49.3},{"t":"2019-04-08T20:00","v":65.4},{"t":"2019-04-08T21:00","v":70.3},{"t":"2019-04-08T22:00","v":77.2},{"t":"2019-04-08T23:00","v":82.1},
{"t":"2019-04-09T01:00","v":87.0},{"t":"2019-04-09T02:00","v":85.9},{"t":"2019-04-09T03:00","v":87.3},{"t":"2019-04-09T04:00","v":86.6},{"t":"2019-04-09T06:00","v":88.4},{"t":"2019-04-09T07:00","v":88.8},{"t":"2019-04-09T08:00","v":90.2},{"t":"2019-04-09T09:00","v":87.4},{"t":"2019-04-09T10:00","v":75.1},{"t":"2019-04-09T12:00","v":61.2},{"t":"2019-04-09T13:00","v":57.7},{"t":"2019-04-09T14:00","v":52.1},{"t":"2019-04-09T15:00","v":53.5},{"t":"2019-04-09T16:00","v":49.7},{"t":"2019-04-09T17:00","v":54.9},{"t":"2019-04-09T18:00","v":57.3},{"t":"2019-04-09T19:00","v":55.9},{"t":"2019-04-09T20:00","v":59.8},{"t":"2019-04-09T21:00","v":65.4},{"t":"2019-04-09T22:00","v":74.4},{"t":"2019-04-09T23:00","v":65.4},
{"t":"2019-04-10T01:00","v":65.1},{"t":"2019-04-10T02:00","v":68.2},{"t":"2019-04-10T03:00","v":68.9},{"t":"2019-04-10T04:00","v":73.0},{"t":"2019-04-10T06:00","v":74.9},{"t":"2019-04-10T07:00","v":80.7},{"t":"2019-04-10T08:00","v":81.1},{"t":"2019-04-10T09:00","v":77.2},{"t":"2019-04-10T10:00","v":71.6},{"t":"2019-04-10T11:00","v":61.9},{"t":"2019-04-10T12:00","v":59.1},{"t":"2019-04-10T13:00","v":54.9},{"t":"2019-04-10T14:00","v":53.5},{"t":"2019-04-10T15:00","v":50.0},{"t":"2019-04-10T17:00","v":52.5},{"t":"2019-04-10T18:00","v":52.8},{"t":"2019-04-10T20:00","v":56.7},{"t":"2019-04-10T21:00","v":57.7},{"t":"2019-04-10T22:00","v":61.5},{"t":"2019-04-10T23:00","v":74.0},
{"t":"2019-04-11T00:00","v":75.1},{"t":"2019-04-11T01:00","v":77.9},{"t":"2019-04-11T02:00","v":78.6},{"t":"2019-04-11T04:00","v":81.4},{"t":"2019-04-11T05:00","v":85.2},{"t":"2019-04-11T06:00","v":84.2},{"t":"2019-04-11T08:00","v":87.0},{"t":"2019-04-11T09:00","v":72.3},{"t":"2019-04-11T10:00","v":59.1},{"t":"2019-04-11T11:00","v":53.5},{"t":"2019-04-11T13:00","v":48.9},{"t":"2019-04-11T14:00","v":46.5},{"t":"2019-04-11T16:00","v":46.2},{"t":"2019-04-11T17:00","v":48.6},{"t":"2019-04-11T18:00","v":49.3},{"t":"2019-04-11T19:00","v":53.5},{"t":"2019-04-11T20:00","v":59.1},{"t":"2019-04-11T21:00","v":62.6},{"t":"2019-04-11T22:00","v":65.4},{"t":"2019-04-11T23:00","v":86.6},
{"t":"2019-04-12T00:00","v":88.7},{"t":"2019-04-12T01:00","v":89.1},{"t":"2019-04-12T02:00","v":91.6},{"t":"2019-04-12T03:00","v":91.2},{"t":"2019-04-12T04:00","v":93.3},{"t":"2019-04-12T05:00","v":94.4},{"t":"2019-04-12T06:00","v":94.0},{"t":"2019-04-12T07:00","v":92.6},{"t":"2019-04-12T08:00","v":93.3},{"t":"2019-04-12T09:00","v":75.1},{"t":"2019-04-12T10:00","v":61.2},{"t":"2019-04-12T11:00","v":47.2},{"t":"2019-04-12T12:00","v":39.5},{"t":"2019-04-12T14:00","v":32.1},{"t":"2019-04-12T16:00","v":28.4},{"t":"2019-04-12T18:00","v":29.7},{"t":"2019-04-12T20:00","v":45.8},{"t":"2019-04-12T22:00","v":44.4},{"t":"2019-04-12T23:00","v":46.9}
],
"rain":[
{"s":"2019-03-30T20:51","e":"2019-03-30T22:28"},
{"s":"2019-03-31T09:04","e":"2019-03-31T10:19"},
{"s":"2019-03-31T13:32","e":"2019-03-31T14:27"},
{"s":"2019-03-31T15:20","e":"2019-03-31T16:14"},
{"s":"2019-03-31T16:36","e":"2019-03-31T17:46"},
{"s":"2019-04-01T15:23","e":"2019-04-01T17:06"},
{"s":"2019-04-01T21:24","e":"2019-04-01T22:13"},
{"s":"2019-04-02T16:24","e":"2019-04-02T17:56"},
{"s":"2019-04-07T01:35","e":"2019-04-08T02:58"},
{"s":"2019-04-08T03:36","e":"2019-04-08T06:24"},
{"s":"2019-04-08T07:43","e":"2019-04-08T09:52"},
{"s":"2019-04-12T04:36","e":"2019-04-12T06:12"}
]
},
"vconcat":[
{
 "width":1365,"height":262,
 "layer":[
  {"data":{"name":"calls"},
   "mark":{"type":"line","strokeDash":[7,6],"color":"#7f7f7f","strokeWidth":1.5},
   "encoding":{
    "x":{"field":"t","type":"temporal","scale":{"domain":[{"year":2019,"month":"mar","date":29,"hours":7,"minutes":53},{"year":2019,"month":"apr","date":13,"hours":15,"minutes":19}]},
         "axis":{"title":null,"format":"%b %d","values":[{"year":2019,"month":"mar","date":31},{"year":2019,"month":"apr","date":2},{"year":2019,"month":"apr","date":4},{"year":2019,"month":"apr","date":6},{"year":2019,"month":"apr","date":8},{"year":2019,"month":"apr","date":10},{"year":2019,"month":"apr","date":12}]}},
    "y":{"field":"n","type":"quantitative","scale":{"domain":[-0.39,8.86],"nice":false,"zero":false},
         "axis":{"title":"Number of calling males","values":[0,1,2,3,4,5,6],"labelExpr":"datum.value == 6 ? '>5' : datum.label","titleX":-57,"titleY":131,"titleAngle":270,"titleAlign":"center","titleBaseline":"middle"}}
   }},
  {"data":{"name":"calls"},"transform":[{"filter":"datum.n > 0"}],
   "mark":{"type":"point","shape":"triangle-up","filled":true,"size":150,"color":"#8B1A1A","opacity":0.8,"strokeWidth":0},
   "encoding":{"x":{"field":"t","type":"temporal"},"y":{"field":"n","type":"quantitative"}}},
  {"data":{"name":"sig"},"transform":[{"filter":"datum.txt == '*' && datum.cat == 'main'"}],
   "mark":{"type":"text","fontSize":38,"fontWeight":"bold","color":"#000000","baseline":"alphabetic","dy":20},
   "encoding":{"x":{"field":"t","type":"temporal"},"y":{"field":"y","type":"quantitative"},"text":{"field":"txt"}}},
  {"data":{"name":"sig"},"transform":[{"filter":"datum.txt == '*' && datum.cat == 'secondary'"}],
   "mark":{"type":"text","fontSize":38,"fontWeight":"bold","color":"#b3b3b3","baseline":"alphabetic","dy":20},
   "encoding":{"x":{"field":"t","type":"temporal"},"y":{"field":"y","type":"quantitative"},"text":{"field":"txt"}}},
  {"data":{"name":"sig"},"transform":[{"filter":"datum.txt == '-'"}],
   "mark":{"type":"text","fontSize":42,"fontWeight":"bold","color":"#b3b3b3","baseline":"alphabetic","dy":12},
   "encoding":{"x":{"field":"t","type":"temporal"},"y":{"field":"y","type":"quantitative"},"text":{"field":"txt"}}},
  {"data":{"values":[{"t":"2019-03-30T00:18","y":8.2,"lab":"A"}]},
   "mark":{"type":"text","fontSize":36,"fontWeight":"bold","color":"#000000","baseline":"alphabetic","dy":13},
   "encoding":{"x":{"field":"t","type":"temporal"},"y":{"field":"y","type":"quantitative"},"text":{"field":"lab"}}}
 ]
},
{
 "width":1365,"height":262,
 "layer":[
  {"data":{"name":"temp"},
   "mark":{"type":"line","strokeWidth":2},
   "encoding":{
    "x":{"field":"t","type":"temporal","scale":{"domain":[{"year":2019,"month":"mar","date":29,"hours":7,"minutes":53},{"year":2019,"month":"apr","date":13,"hours":15,"minutes":19}]},
         "axis":{"title":null,"format":"%b %d","values":[{"year":2019,"month":"mar","date":31},{"year":2019,"month":"apr","date":2},{"year":2019,"month":"apr","date":4},{"year":2019,"month":"apr","date":6},{"year":2019,"month":"apr","date":8},{"year":2019,"month":"apr","date":10},{"year":2019,"month":"apr","date":12}]}},
    "y":{"field":"v","type":"quantitative","scale":{"domain":[-9.7,20.5],"nice":false,"zero":false},
         "axis":{"title":"Temperature (°C)","values":[0,10,20],"grid":true,"titleX":-57,"titleY":131,"titleAngle":270,"titleAlign":"center","titleBaseline":"middle"}},
    "color":{"field":"s","type":"nominal","scale":{"domain":["Air","Water"],"range":["#9fd0e2","#0000ff"]},
         "legend":{"title":null,"orient":"none","legendX":305,"legendY":14.5,"symbolType":"stroke","symbolStrokeWidth":2,"symbolSize":289,"labelFontSize":14.5,"labelColor":"#000000","labelFont":"Liberation Sans","rowPadding":4,"padding":0,"labelOffset":12}}
   }},
  {"data":{"values":[{"t":"2019-03-30T00:18","y":17.8,"lab":"B"}]},
   "mark":{"type":"text","fontSize":36,"fontWeight":"bold","color":"#000000","baseline":"alphabetic","dy":13},
   "encoding":{"x":{"field":"t","type":"temporal"},"y":{"field":"y","type":"quantitative"},"text":{"field":"lab"}}}
 ]
},
{
 "width":1365,"height":262,
 "layer":[
  {"data":{"name":"rain"},
   "mark":{"type":"rect","color":"#808080","opacity":0.35},
   "encoding":{"x":{"field":"s","type":"temporal"},"x2":{"field":"e"}}},
  {"data":{"name":"rh"},
   "mark":{"type":"line","color":"#8B1A1A","strokeWidth":2},
   "encoding":{
    "x":{"field":"t","type":"temporal","scale":{"domain":[{"year":2019,"month":"mar","date":29,"hours":7,"minutes":53},{"year":2019,"month":"apr","date":13,"hours":15,"minutes":19}]},
         "axis":{"title":null,"format":"%b %d","values":[{"year":2019,"month":"mar","date":31},{"year":2019,"month":"apr","date":2},{"year":2019,"month":"apr","date":4},{"year":2019,"month":"apr","date":6},{"year":2019,"month":"apr","date":8},{"year":2019,"month":"apr","date":10},{"year":2019,"month":"apr","date":12}]}},
    "y":{"field":"v","type":"quantitative","scale":{"domain":[-4.8,105],"nice":false,"zero":false},
         "axis":{"title":"Relative humidity (%)","values":[0,25,50,75,100],"grid":true,"titleX":-57,"titleY":131,"titleAngle":270,"titleAlign":"center","titleBaseline":"middle"}}
   }},
  {"data":{"values":[{"t":"2019-03-30T00:18","y":94.6,"lab":"C"}]},
   "mark":{"type":"text","fontSize":36,"fontWeight":"bold","color":"#000000","baseline":"alphabetic","dy":13},
   "encoding":{"x":{"field":"t","type":"temporal"},"y":{"field":"y","type":"quantitative"},"text":{"field":"lab"}}}
 ]
}
]
}
